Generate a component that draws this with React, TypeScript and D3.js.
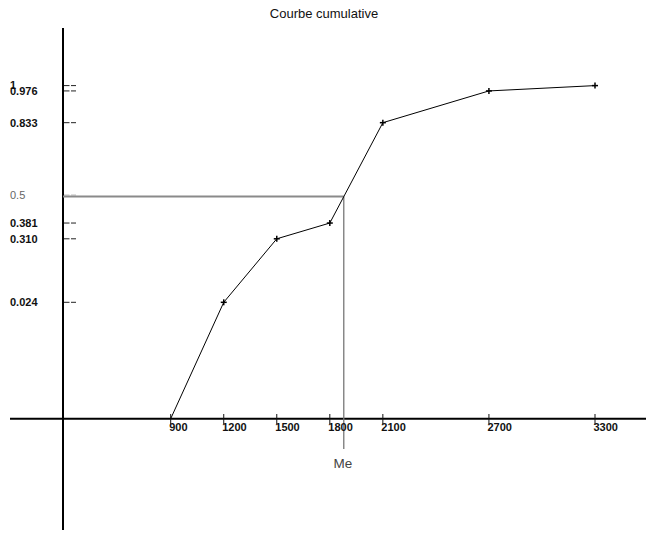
import React from "react";
import * as d3 from "d3";

// Class bounds and cumulative relative frequencies
const bounds = [900, 1200, 1500, 1800, 2100, 2700, 3300];
const cumFreq = [0, 0.024, 0.31, 0.381, 0.833, 0.976, 1];
const yTickValues = [0.024, 0.31, 0.381, 0.833, 0.976, 1];
const yTickLabels = ["0.024", "0.310", "0.381", "0.833", "0.976", "1"];
const medianLevel = 0.5;
const medianLevelLabel = "0.5";
const title = "Courbe cumulative";
const medianLabel = "Me";

const W = 652;
const H = 539;
const FONT = "'Liberation Sans', Arial, sans-serif";

export default function App() {
  const axisX = 63;
  const axisY = 418.7;

  const x = d3.scaleLinear().domain([900, 3300]).range([170.7, 595]);
  // the origin sits on the horizontal axis, the rest of the range is linear
  const y = d3.scaleLinear().domain([0, 0.024, 1]).range([axisY, 302.3, 85.6]);

  const pts = bounds.map((b, i) => [b, cumFreq[i]] as [number, number]);
  const line = d3
    .line<[number, number]>()
    .x((d) => x(d[0]))
    .y((d) => y(d[1]));

  // median by linear interpolation within the class that crosses 0.5
  let median = bounds[0];
  for (let i = 1; i < bounds.length; i++) {
    if (cumFreq[i] >= medianLevel && cumFreq[i - 1] < medianLevel) {
      const t = (medianLevel - cumFreq[i - 1]) / (cumFreq[i] - cumFreq[i - 1]);
      median = bounds[i - 1] + t * (bounds[i] - bounds[i - 1]);
      break;
    }
  }
  const mx = x(median);
  const my = y(medianLevel);

  return (
    <svg
      width={W}
      height={H}
      style={{ position: "absolute", left: 0, top: 0, background: "#fff" }}
      fontFamily={FONT}
    >
      <text x={324} y={17.6} fontSize={13} textAnchor="middle" fill="#111">
        {title}
      </text>

      {/* axes */}
      <line x1={axisX} x2={axisX} y1={28} y2={530} stroke="#000" strokeWidth={2} />
      <line x1={10} x2={646} y1={axisY} y2={axisY} stroke="#000" strokeWidth={2} />

      {/* median guide lines */}
      <line x1={axisX} x2={mx} y1={my} y2={my} stroke="#8a8a8a" strokeWidth={2} />
      <line x1={mx} x2={mx} y1={my} y2={449} stroke="#777" strokeWidth={1.3} />
      <text x={mx - 1} y={468} fontSize={13.5} textAnchor="middle" fill="#444">
        {medianLabel}
      </text>

      {/* y ticks */}
      {yTickValues.map((v, i) => (
        <g key={"yt" + i}>
          <line
            x1={64}
            x2={76}
            y1={y(v)}
            y2={y(v)}
            stroke="#222"
            strokeWidth={1}
            strokeDasharray="5.5,1.5"
          />
          <text
            x={10}
            y={y(v)}
            dy="0.35em"
            fontSize={11}
            fontWeight="bold"
            fill="#111"
          >
            {yTickLabels[i]}
          </text>
        </g>
      ))}
      <line
        x1={64}
        x2={76}
        y1={my - 1.5}
        y2={my - 1.5}
        stroke="#aaa"
        strokeWidth={1}
        strokeDasharray="5.5,1.5"
      />
      <text x={10} y={my - 1.5} dy="0.35em" fontSize={11} fill="#666">
        {medianLevelLabel}
      </text>

      {/* x ticks */}
      {bounds.map((b, i) => (
        <g key={"xt" + i}>
          <line x1={x(b)} x2={x(b)} y1={414} y2={424} stroke="#111" strokeWidth={1} />
          <text x={x(b) - 1.5} y={430.5} fontSize={11} fontWeight="bold" fill="#111">
            {b}
          </text>
        </g>
      ))}

      {/* cumulative curve */}
      <path d={line(pts) || ""} fill="none" stroke="#000" strokeWidth={1} />
      {pts.slice(1).map((p, i) => (
        <g key={"m" + i} stroke="#000" strokeWidth={1.5}>
          <line x1={x(p[0]) - 3} x2={x(p[0]) + 3} y1={y(p[1])} y2={y(p[1])} />
          <line x1={x(p[0])} x2={x(p[0])} y1={y(p[1]) - 3} y2={y(p[1]) + 3} />
        </g>
      ))}
    </svg>
  );
}
